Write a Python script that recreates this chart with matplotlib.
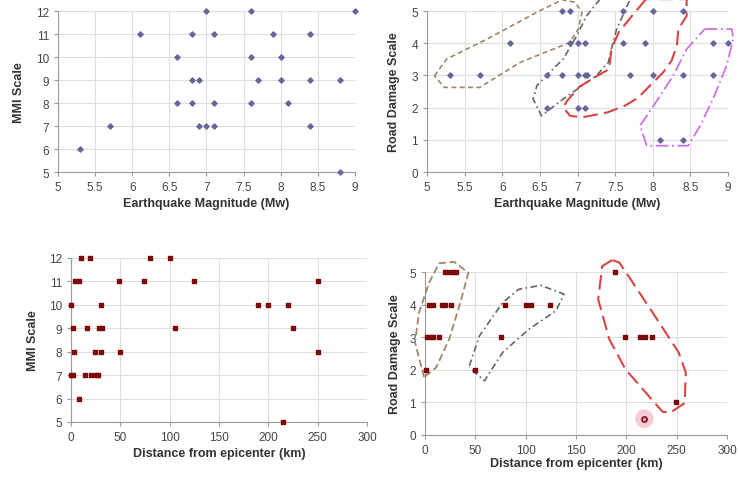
import matplotlib
matplotlib.use("Agg")
import matplotlib.pyplot as plt

plt.rcParams['font.family'] = ['Liberation Sans', 'DejaVu Sans']

# magnitude (Mw) vs MMI
mag_a = [7.0, 7.6, 9.0,
         6.1, 6.8, 7.1, 7.9, 8.4,
         6.6, 7.6, 8.0,
         6.8, 6.9, 7.7, 8.0, 8.4, 8.8,
         6.6, 6.8, 7.1, 7.6, 8.1,
         5.7, 6.9, 7.0, 7.1, 8.4,
         5.3, 8.8]
mmi_a = [12, 12, 12,
         11, 11, 11, 11, 11,
         10, 10, 10,
         9, 9, 9, 9, 9, 9,
         8, 8, 8, 8, 8,
         7, 7, 7, 7, 7,
         6, 5]

# magnitude (Mw) vs road damage
mag_b = [6.8, 6.9, 7.6, 8.0, 8.4,
         6.1, 6.9, 7.0, 7.1, 7.6, 7.9, 8.8, 9.0,
         5.3, 5.7, 6.6, 6.8, 7.0, 7.1, 7.12, 7.7, 8.0, 8.4, 8.8,
         6.6, 7.0, 7.1,
         8.1, 8.4]
road_b = [5, 5, 5, 5, 5,
          4, 4, 4, 4, 4, 4, 4, 4,
          3, 3, 3, 3, 3, 3, 3, 3, 3, 3, 3,
          2, 2, 2,
          1, 1]

# distance (km) vs MMI
dist_c = [10, 19, 80, 100,
          4, 8, 49, 74, 125, 250,
          0, 30, 190, 200, 220,
          2, 16, 28, 31, 105, 225,
          3, 24, 30, 50, 250,
          0, 2, 14, 20, 25, 27,
          8, 215]
mmi_c = [12, 12, 12, 12,
         11, 11, 11, 11, 11, 11,
         10, 10, 10, 10, 10,
         9, 9, 9, 9, 9, 9,
         8, 8, 8, 8, 8,
         7, 7, 7, 7, 7, 7,
         6, 5]

# distance (km) vs road damage
dist_d = [20, 24, 28, 31, 189,
          4, 8, 17, 20, 26, 79, 100, 105, 124,
          2, 6, 8, 14, 75, 199, 214, 219, 225,
          1, 50,
          249]
road_d = [5, 5, 5, 5, 5,
          4, 4, 4, 4, 4, 4, 4, 4, 4,
          3, 3, 3, 3, 3, 3, 3, 3, 3,
          2, 2,
          1]
cursor_d = (218, 0.5)

# hand drawn groupings (data coordinates)
grp_b_brown = [(5.10, 2.99), (5.26, 3.51), (5.79, 4.12), (6.49, 5.0), (6.80, 5.35),
               (6.97, 5.27), (7.06, 4.95), (7.01, 4.44), (6.90, 4.03), (6.68, 3.82),
               (6.24, 3.41), (5.70, 2.63), (5.23, 2.63), (5.10, 2.99)]
grp_b_gray = [(7.30, 5.37), (7.12, 4.85), (6.99, 4.23), (6.81, 3.51), (6.63, 3.10),
              (6.46, 2.68), (6.41, 2.27), (6.52, 1.75), (6.81, 2.27), (7.25, 2.99),
              (7.41, 3.41), (7.45, 3.82), (7.52, 4.44), (7.70, 5.37)]
grp_b_red = [(7.91, 5.37), (7.72, 4.84), (7.55, 4.35), (7.45, 3.82), (7.42, 3.20),
             (7.25, 2.97), (7.03, 2.66), (6.86, 2.21), (6.81, 2.01), (6.90, 1.75),
             (7.06, 1.70), (7.39, 1.85), (7.62, 2.05), (7.80, 2.30), (7.96, 2.68),
             (8.14, 3.10), (8.25, 3.46), (8.32, 3.92), (8.34, 4.44), (8.45, 4.85),
             (8.45, 5.37), (7.91, 5.37)]
grp_b_pink = [(8.69, 4.44), (9.05, 4.44), (9.07, 4.13), (8.98, 3.30), (8.80, 2.27),
              (8.63, 1.44), (8.47, 0.82), (7.92, 0.82), (7.83, 1.44), (8.01, 2.06),
              (8.27, 2.99), (8.45, 3.82), (8.69, 4.44)]

grp_d_brown = [(-1, 1.77), (-10, 2.84), (-6, 3.76), (4, 4.67), (14, 5.27), (29, 5.31),
               (43, 4.98), (35, 4.06), (24, 2.94), (11, 2.07), (-1, 1.77)]
grp_d_gray = [(44, 2.12), (54, 3.04), (77, 4.06), (93, 4.47), (115, 4.59), (138, 4.32),
              (130, 3.81), (103, 3.24), (77, 2.53), (59, 1.66), (44, 2.07)]
grp_d_red = [(186, 5.37), (176, 5.18), (172, 4.16), (183, 2.94), (199, 2.02), (219, 1.31),
             (236, 0.71), (244, 0.69), (258, 0.98), (259, 1.92), (252, 2.53), (226, 3.76),
             (202, 4.88), (193, 5.29), (186, 5.37)]

BROWN = '#a08566'
GRAY = '#5c6b62'
RED = '#d94545'
PINK = '#cf72e0'


def style(ax):
    ax.grid(True, color='#dedede', lw=0.8)
    ax.set_axisbelow(True)
    for s in ['top', 'right']:
        ax.spines[s].set_visible(False)
    for s in ['left', 'bottom']:
        ax.spines[s].set_color('#9a9a9a')
    ax.tick_params(colors='#9a9a9a', labelcolor='#444444', labelsize=8.5, length=3)


def outline(ax, pts, color, ls, lw=1.4):
    xs = [p[0] for p in pts]
    ys = [p[1] for p in pts]
    ax.plot(xs, ys, color=color, ls=ls, lw=lw, clip_on=False, zorder=3)


fig = plt.figure(figsize=(7.38, 4.81), dpi=100)

ax1 = fig.add_axes([0.0786, 0.640, 0.4024, 0.335])
ax2 = fig.add_axes([0.5786, 0.640, 0.4079, 0.335])
ax3 = fig.add_axes([0.0962, 0.1206, 0.4010, 0.341])
ax4 = fig.add_axes([0.5760, 0.0936, 0.4091, 0.3388])

lab = dict(fontsize=9, fontweight='bold', color='#333333')

# top left
style(ax1)
ax1.scatter(mag_a, mmi_a, marker='D', s=7, color='#65659a', zorder=4, clip_on=False)
ax1.set_xlim(5, 9)
ax1.set_ylim(5, 12)
ax1.set_xticks([5, 5.5, 6, 6.5, 7, 7.5, 8, 8.5, 9])
ax1.set_xticklabels(['5', '5.5', '6', '6.5', '7', '7.5', '8', '8.5', '9'])
ax1.set_yticks(range(5, 13))
ax1.set_xlabel('Earthquake Magnitude (Mw)', labelpad=3, **lab)
ax1.set_ylabel('MMI Scale', labelpad=8, **lab)

# top right
style(ax2)
ax2.scatter(mag_b, road_b, marker='D', s=7, color='#65659a', zorder=4, clip_on=False)
ax2.set_xlim(5, 9)
ax2.set_ylim(0, 5)
ax2.set_xticks([5, 5.5, 6, 6.5, 7, 7.5, 8, 8.5, 9])
ax2.set_xticklabels(['5', '5.5', '6', '6.5', '7', '7.5', '8', '8.5', '9'])
ax2.set_yticks(range(0, 6))
ax2.set_xlabel('Earthquake Magnitude (Mw)', labelpad=3, **lab)
ax2.set_ylabel('Road Damage Scale', labelpad=8, **lab)
outline(ax2, grp_b_brown, BROWN, (0, (3, 2)), lw=1.2)
outline(ax2, grp_b_gray, GRAY, (0, (4, 2, 1, 2)), lw=1.2)
outline(ax2, grp_b_red, RED, (0, (7, 3)), lw=1.5)
outline(ax2, grp_b_pink, PINK, (0, (7, 2, 1, 2)), lw=1.3)

# bottom left
style(ax3)
ax3.scatter(dist_c, mmi_c, marker='s', s=11, color='#7d0a0a', zorder=4, clip_on=False)
ax3.set_xlim(0, 300)
ax3.set_ylim(5, 12)
ax3.set_xticks(range(0, 301, 50))
ax3.set_yticks(range(5, 13))
ax3.set_xlabel('Distance from epicenter (km)', labelpad=3, **lab)
ax3.set_ylabel('MMI Scale', labelpad=7, **lab)

# bottom right
style(ax4)
ax4.scatter(dist_d, road_d, marker='s', s=11, color='#7d0a0a', zorder=4, clip_on=False)
ax4.scatter([cursor_d[0]], [cursor_d[1]], s=180, color='#f4b8c4', alpha=0.7, zorder=4,
            edgecolors='none')
ax4.scatter([cursor_d[0]], [cursor_d[1]], s=14, facecolor='#e8a0b0', edgecolors='#8a1020',
            lw=1.2, zorder=5)
ax4.set_xlim(0, 300)
ax4.set_ylim(0, 5)
ax4.set_xticks(range(0, 301, 50))
ax4.set_yticks(range(0, 6))
ax4.set_xlabel('Distance from epicenter (km)', labelpad=1, **lab)
ax4.set_ylabel('Road Damage Scale', labelpad=6, **lab)
outline(ax4, grp_d_brown, BROWN, (0, (4, 2)), lw=1.3)
outline(ax4, grp_d_gray, GRAY, (0, (4, 2, 1, 2)), lw=1.2)
outline(ax4, grp_d_red, RED, (0, (7, 3)), lw=1.5)

fig.savefig('out.png', dpi=100)
